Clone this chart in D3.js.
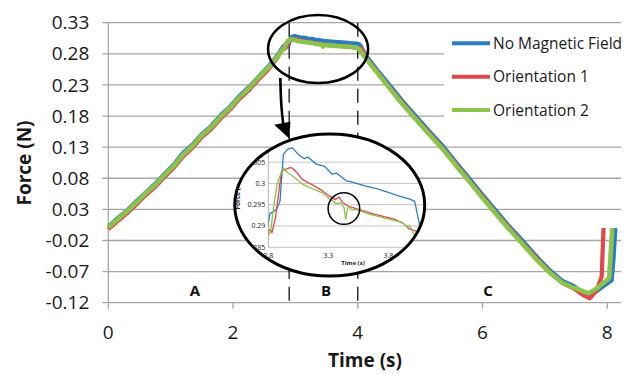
<!DOCTYPE html>
<html>
<head>
<meta charset="utf-8">
<script src="https://cdnjs.cloudflare.com/ajax/libs/d3/7.8.5/d3.min.js"></script>
<style>
  body { margin: 0; background: #fff; }
  svg { display: block; font-family: "Open Sans", sans-serif; }
</style>
</head>
<body>
<svg id="chart" width="629" height="374"></svg>
<script>
// series: [time (s), force (N)]
const seriesNames = ['No Magnetic Field', 'Orientation 1', 'Orientation 2'];
const seriesColors = ['#2a7dc5', '#e2474b', '#8cc34a'];

const noFieldData = [
  [0, 0.002], [0.15, 0.016], [0.3, 0.028], [0.45, 0.043], [0.6, 0.057], [0.75, 0.071],
  [0.9, 0.087], [1.05, 0.102], [1.2, 0.121], [1.35, 0.134], [1.5, 0.151], [1.65, 0.164],
  [1.8, 0.181], [1.95, 0.195], [2.1, 0.212], [2.25, 0.226], [2.4, 0.242], [2.55, 0.258],
  [2.7, 0.276], [2.8, 0.2908], [2.814, 0.2929], [2.87, 0.2939], [2.898, 0.2959],
  [2.925, 0.3068], [2.96, 0.308], [3.0, 0.3084], [3.05, 0.3068], [3.1, 0.3058],
  [3.13, 0.3062], [3.2, 0.3045], [3.27, 0.304], [3.33, 0.3022], [3.37, 0.3024],
  [3.45, 0.3006], [3.5, 0.3003], [3.57, 0.2997], [3.62, 0.2993], [3.7, 0.2988],
  [3.74, 0.2984], [3.8, 0.2979], [3.87, 0.2972], [3.92, 0.2968], [3.98, 0.2963],
  [4.02, 0.2958], [4.06, 0.2904], [4.11, 0.28], [4.3, 0.255], [4.5, 0.231], [4.7, 0.206],
  [4.92, 0.181], [5.15, 0.155], [5.37, 0.131], [5.57, 0.106], [5.77, 0.082], [5.97, 0.057],
  [6.18, 0.032], [6.4, 0.006], [6.62, -0.018], [6.85, -0.044], [7.08, -0.068], [7.28, -0.085],
  [7.46, -0.093], [7.6, -0.103], [7.73, -0.108], [7.85, -0.1], [7.97, -0.091],
  [8.07, -0.084], [8.1, -0.05], [8.13, 0.0]
];

const orient1Data = [
  [0, -0.002], [0.15, 0.011], [0.3, 0.024], [0.45, 0.038], [0.6, 0.053], [0.75, 0.066],
  [0.9, 0.082], [1.05, 0.097], [1.2, 0.115], [1.35, 0.129], [1.5, 0.146], [1.65, 0.159],
  [1.8, 0.176], [1.95, 0.19], [2.1, 0.207], [2.25, 0.221], [2.4, 0.238], [2.55, 0.253],
  [2.7, 0.272], [2.8, 0.2888], [2.815, 0.2892], [2.83, 0.2884], [2.86, 0.292],
  [2.91, 0.3029], [2.98, 0.3037], [3.0, 0.3036], [3.04, 0.3025], [3.08, 0.301],
  [3.17, 0.2996], [3.25, 0.2983], [3.31, 0.297], [3.36, 0.2962], [3.39, 0.2968],
  [3.42, 0.2955], [3.46, 0.2947], [3.53, 0.2941], [3.6, 0.2935], [3.68, 0.2928],
  [3.74, 0.2924], [3.85, 0.2916], [3.93, 0.2905], [3.97, 0.2894], [4.06, 0.2885],
  [4.11, 0.277], [4.3, 0.252], [4.5, 0.227], [4.7, 0.203], [4.92, 0.177], [5.15, 0.152],
  [5.37, 0.127], [5.57, 0.103], [5.77, 0.078], [5.97, 0.054], [6.18, 0.028], [6.4, 0.003],
  [6.62, -0.022], [6.85, -0.047], [7.08, -0.071], [7.28, -0.088], [7.46, -0.097],
  [7.6, -0.107], [7.72, -0.113], [7.83, -0.1], [7.91, -0.078], [7.94, 0.0]
];

const orient2Data = [
  [0, 0.001], [0.15, 0.014], [0.3, 0.027], [0.45, 0.041], [0.6, 0.056], [0.75, 0.069],
  [0.9, 0.085], [1.05, 0.1], [1.2, 0.118], [1.35, 0.132], [1.5, 0.149], [1.65, 0.162],
  [1.8, 0.179], [1.95, 0.193], [2.1, 0.21], [2.25, 0.224], [2.4, 0.241], [2.55, 0.256],
  [2.7, 0.274], [2.8, 0.2877], [2.82, 0.2888], [2.84, 0.2935], [2.875, 0.3002],
  [2.925, 0.3037], [2.96, 0.3025], [3.0, 0.3018], [3.08, 0.2999], [3.17, 0.2987],
  [3.25, 0.2978], [3.31, 0.2964], [3.37, 0.2952], [3.4, 0.2955], [3.43, 0.2945],
  [3.445, 0.2916], [3.46, 0.294], [3.47, 0.2945], [3.5, 0.2937], [3.53, 0.2939],
  [3.64, 0.2928], [3.74, 0.2921], [3.82, 0.2915], [3.91, 0.2909], [3.95, 0.29],
  [3.98, 0.29], [4.02, 0.2877], [4.11, 0.275], [4.3, 0.251], [4.5, 0.226], [4.7, 0.201],
  [4.92, 0.176], [5.15, 0.15], [5.37, 0.126], [5.57, 0.101], [5.77, 0.077], [5.97, 0.052],
  [6.18, 0.027], [6.4, 0.001], [6.62, -0.023], [6.85, -0.049], [7.08, -0.072],
  [7.28, -0.088], [7.46, -0.096], [7.6, -0.101], [7.7, -0.105], [7.83, -0.097],
  [7.99, -0.084], [8.03, -0.08], [8.08, 0.0]
];

const allSeries = [noFieldData, orient1Data, orient2Data];

const yTicks = [-0.12, -0.07, -0.02, 0.03, 0.08, 0.13, 0.18, 0.23, 0.28, 0.33];
const yTickLabels = ['-0.12', '-0.07', '-0.02', '0.03', '0.08', '0.13', '0.18', '0.23', '0.28', '0.33'];
const xTicks = [0, 2, 4, 6, 8];

const phaseBounds = [2.9, 4.0];
const phaseLabels = ['A', 'B', 'C'];
const phaseLabelTimes = [1.39, 3.49, 6.09];

const insetYTicks = [0.285, 0.29, 0.295, 0.3, 0.305];
const insetYLabels = ['0.285', '0.29', '0.295', '0.3', '0.305'];
const insetXTicks = [2.8, 3.3, 3.8];

// annotation anchors, in data units
const zoomSpot = [3.363, 0.2877];       // small ellipse round the plateau
const insetSpot = [3.55, 0.037];        // large ellipse holding the inset
const spikeSpot = [3.43, 0.2941];       // small circle inside the inset (inset units)
const arrowPath = [[2.758, 0.241], [2.77, 0.195], [2.81, 0.163]];
const arrowHead = [[2.66, 0.166], [2.92, 0.171], [2.9, 0.144]];

const svg = d3.select('#chart');
const margin = { left: 108.3, right: 8, top: 22.7, bottom: 71.3 };
const width = 629, height = 374;

const x = d3.scaleLinear().domain([0, 8.22]).range([margin.left, width - margin.right]);
const y = d3.scaleLinear().domain([-0.12, 0.33]).range([height - margin.bottom, margin.top]);

// gridlines
svg.append('g')
  .selectAll('line')
  .data(yTicks)
  .join('line')
  .attr('x1', x(0) - 6)
  .attr('x2', x.range()[1])
  .attr('y1', d => y(d))
  .attr('y2', d => y(d))
  .attr('stroke', '#a6a6a6')
  .attr('stroke-width', 1.3);

// y axis line
svg.append('line')
  .attr('x1', x(0)).attr('x2', x(0))
  .attr('y1', y(0.33)).attr('y2', y(-0.12))
  .attr('stroke', '#a6a6a6').attr('stroke-width', 1.3);

// x ticks
svg.append('g')
  .selectAll('line')
  .data(xTicks)
  .join('line')
  .attr('x1', d => x(d)).attr('x2', d => x(d))
  .attr('y1', y(-0.12)).attr('y2', y(-0.12) + 6)
  .attr('stroke', '#a6a6a6').attr('stroke-width', 1.3);

// tick labels
svg.append('g')
  .selectAll('text')
  .data(yTicks)
  .join('text')
  .attr('x', x(0) - 19)
  .attr('y', d => y(d))
  .attr('dy', '0.35em')
  .attr('text-anchor', 'end')
  .attr('font-size', 19)
  .attr('fill', '#1a1a1a')
  .text((d, i) => yTickLabels[i]);

svg.append('g')
  .selectAll('text')
  .data(xTicks)
  .join('text')
  .attr('x', d => x(d))
  .attr('y', y(-0.12) + 36)
  .attr('text-anchor', 'middle')
  .attr('font-size', 19)
  .attr('fill', '#1a1a1a')
  .text(d => d);

// axis titles
svg.append('text')
  .attr('x', 365).attr('y', 367)
  .attr('text-anchor', 'middle')
  .attr('font-size', 19).attr('font-weight', 'bold')
  .attr('fill', '#1a1a1a')
  .text('Time (s)');

svg.append('text')
  .attr('transform', 'translate(31,163) rotate(-90)')
  .attr('text-anchor', 'middle')
  .attr('font-size', 19).attr('font-weight', 'bold')
  .attr('fill', '#1a1a1a')
  .text('Force (N)');

// phase boundaries
svg.append('g')
  .selectAll('line')
  .data(phaseBounds)
  .join('line')
  .attr('x1', d => x(d)).attr('x2', d => x(d))
  .attr('y1', y(0.33)).attr('y2', y(-0.12))
  .attr('stroke', '#111').attr('stroke-width', 1.3)
  .attr('stroke-dasharray', '14,8');

svg.append('g')
  .selectAll('text')
  .data(phaseLabels)
  .join('text')
  .attr('x', (d, i) => x(phaseLabelTimes[i]))
  .attr('y', y(-0.12) - 7)
  .attr('text-anchor', 'middle')
  .attr('font-size', 15).attr('font-weight', 'bold')
  .attr('fill', '#111')
  .text(d => d);

// series
const line = d3.line().x(d => x(d[0])).y(d => y(d[1]));
svg.append('g')
  .selectAll('path')
  .data(allSeries)
  .join('path')
  .attr('d', line)
  .attr('fill', 'none')
  .attr('stroke', (d, i) => seriesColors[i])
  .attr('stroke-width', (d, i) => i === 2 ? 4.6 : 4.2)
  .attr('stroke-linejoin', 'round');

// small ellipse on the plateau
svg.append('ellipse')
  .attr('cx', x(zoomSpot[0])).attr('cy', y(zoomSpot[1]))
  .attr('rx', 50).attr('ry', 34)
  .attr('fill', 'none').attr('stroke', '#000').attr('stroke-width', 2.6);

// arrow
svg.append('path')
  .attr('d', d3.line().x(d => x(d[0])).y(d => y(d[1])).curve(d3.curveBasis)(arrowPath))
  .attr('fill', 'none').attr('stroke', '#000').attr('stroke-width', 2.6);
svg.append('polygon')
  .attr('points', arrowHead.map(d => [x(d[0]), y(d[1])].join(',')).join(' '))
  .attr('fill', '#000');

// legend
const legend = svg.append('g');
legend.append('rect')
  .attr('x', 444).attr('y', 28).attr('width', 185).attr('height', 96)
  .attr('fill', '#fff');
const legendItem = legend.selectAll('g')
  .data(seriesNames)
  .join('g')
  .attr('transform', (d, i) => `translate(452, ${43.3 + i * 33.4})`);
legendItem.append('line')
  .attr('x1', 0).attr('x2', 38)
  .attr('stroke', (d, i) => seriesColors[i])
  .attr('stroke-width', 4);
legendItem.append('text')
  .attr('x', 41).attr('dy', '0.35em')
  .attr('font-size', 15.5).attr('fill', '#1a1a1a')
  .text(d => d);

// inset inside the large ellipse
const ecx = x(insetSpot[0]), ecy = y(insetSpot[1]);
const erx = 95, ery = 71;

const defs = svg.append('defs');
defs.append('clipPath').attr('id', 'ellipse-clip')
  .append('ellipse')
  .attr('cx', ecx).attr('cy', ecy).attr('rx', erx - 1).attr('ry', ery - 1);

svg.append('ellipse')
  .attr('cx', ecx).attr('cy', ecy).attr('rx', erx).attr('ry', ery)
  .attr('fill', '#fff');

const ix = d3.scaleLinear().domain([2.8, 4.2]).range([268.3, 436.3]);
const iy = d3.scaleLinear().domain([0.285, 0.31]).range([247.3, 140.8]);

defs.append('clipPath').attr('id', 'inset-plot')
  .append('rect')
  .attr('x', ix(2.8)).attr('y', iy(0.31))
  .attr('width', ix(4.2) - ix(2.8)).attr('height', iy(0.285) - iy(0.31));

const inset = svg.append('g').attr('clip-path', 'url(#ellipse-clip)');

inset.append('g')
  .selectAll('line')
  .data(insetYTicks)
  .join('line')
  .attr('x1', ix(2.8)).attr('x2', ix(4.2))
  .attr('y1', d => iy(d)).attr('y2', d => iy(d))
  .attr('stroke', '#c4c4c4').attr('stroke-width', 1);

inset.append('line')
  .attr('x1', ix(2.8)).attr('x2', ix(2.8))
  .attr('y1', iy(0.3085)).attr('y2', iy(0.285))
  .attr('stroke', '#b5b5b5').attr('stroke-width', 1);

inset.append('g')
  .selectAll('text')
  .data(insetYTicks)
  .join('text')
  .attr('x', ix(2.8) - 3)
  .attr('y', d => iy(d))
  .attr('dy', '0.35em')
  .attr('text-anchor', 'end')
  .attr('font-size', 7).attr('fill', '#222')
  .text((d, i) => insetYLabels[i]);

inset.append('g')
  .selectAll('text')
  .data(insetXTicks)
  .join('text')
  .attr('x', d => ix(d))
  .attr('y', iy(0.285) + 11)
  .attr('text-anchor', 'middle')
  .attr('font-size', 7).attr('fill', '#222')
  .text(d => d);

inset.append('text')
  .attr('x', 353).attr('y', 265)
  .attr('text-anchor', 'middle')
  .attr('font-size', 6).attr('font-weight', 'bold').attr('fill', '#222')
  .text('Time (s)');

inset.append('text')
  .attr('transform', 'translate(240,195) rotate(-90)')
  .attr('text-anchor', 'middle')
  .attr('font-size', 6.5).attr('font-weight', 'bold').attr('fill', '#222')
  .text('Force (N)');

const insetLine = d3.line().x(d => ix(d[0])).y(d => iy(d[1]));
inset.append('g')
  .attr('clip-path', 'url(#inset-plot)')
  .selectAll('path')
  .data(allSeries)
  .join('path')
  .attr('d', insetLine)
  .attr('fill', 'none')
  .attr('stroke', (d, i) => seriesColors[i])
  .attr('stroke-width', 1.3)
  .attr('stroke-linejoin', 'round');

inset.append('circle')
  .attr('cx', ix(spikeSpot[0])).attr('cy', iy(spikeSpot[1]))
  .attr('r', 15.8)
  .attr('fill', 'none').attr('stroke', '#000').attr('stroke-width', 1.5);

svg.append('ellipse')
  .attr('cx', ecx).attr('cy', ecy).attr('rx', erx).attr('ry', ery)
  .attr('fill', 'none').attr('stroke', '#000').attr('stroke-width', 3);
</script>
</body>
</html>
